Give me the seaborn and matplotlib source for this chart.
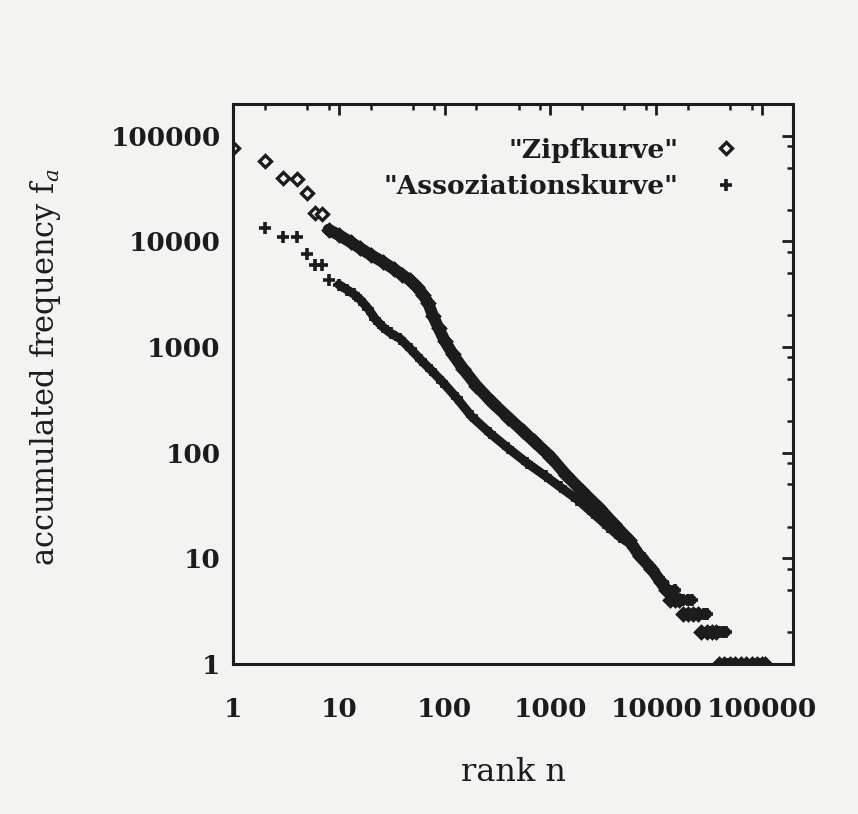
import numpy as np
import pandas as pd
import matplotlib
matplotlib.use("Agg")
import matplotlib.pyplot as plt
import seaborn as sns
from matplotlib.ticker import FixedLocator, FixedFormatter, NullFormatter

# ---------------- data ----------------
zipf_rank = [1, 2, 3, 4, 5, 6, 7, 8,
             10, 13, 16, 20, 26, 33, 40, 47, 55, 63, 70, 78, 88, 100,
             120, 150, 200, 280, 400, 550, 700, 1000, 1400, 2000,
             2900, 4000, 5500, 7000, 9000, 11000, 12500,
             13500, 15000, 16500,
             18000, 20000, 22500, 25000,
             26500, 30000, 33500, 37000,
             39000, 44000, 50000, 56000, 63000, 71000, 80000, 90000, 100000, 107000]
zipf_freq = [77000, 57000, 40000, 38500, 29000, 18700, 18300, 12900,
             11500, 9800, 8600, 7450, 6400, 5500, 4800, 4300, 3700, 3100, 2600, 1950, 1500, 1150,
             850, 620, 430, 300, 215, 160, 128, 92, 62, 43,
             30, 21, 15, 10.5, 8, 6, 5,
             4, 4, 4,
             3, 3, 3, 3,
             2, 2, 2, 2,
             1, 1, 1, 1, 1, 1, 1, 1, 1, 1]

assoc_rank = [2, 3, 4, 5, 6, 7, 8,
              10, 12, 14, 16, 19, 22, 26, 31, 38,
              48, 60, 75, 95, 130, 180, 270, 400, 600, 900,
              1250, 1800, 2500, 3500, 4500, 5500, 7000, 9000, 11500, 13000,
              15000, 16000, 18000, 20000, 22000,
              23000, 25500, 28000, 30000,
              31500, 35000, 39000, 43000, 46000,
              48000, 55000, 63000, 72000, 82000, 93000]
assoc_freq = [13400, 11000, 11000, 7600, 6000, 6000, 4300,
              3900, 3480, 3150, 2800, 2300, 1850, 1550, 1350, 1200,
              950, 750, 600, 470, 330, 220, 152, 110, 80, 60,
              47, 36, 27, 20, 16, 14, 11, 8, 6, 5,
              5, 4, 4, 4, 4,
              3, 3, 3, 3,
              2, 2, 2, 2, 2,
              1, 1, 1, 1, 1, 1]

series_names = ['"Zipfkurve"', '"Assoziationskurve"']
tick_values = [1, 10, 100, 1000, 10000, 100000]
tick_labels = ["1", "10", "100", "1000", "10000", "100000"]
x_label = "rank n"
y_label = "accumulated frequency f$_{a}$"

# ---------------- style ----------------
sns.set_theme(style="white")
plt.rcParams["font.family"] = ["DejaVu Serif"]
plt.rcParams["mathtext.fontset"] = "dejavuserif"

INK = "#1c1c1c"
BG = "#f3f3f1"

fig = plt.figure(figsize=(8.58, 8.14), dpi=100, facecolor=BG)
ax = fig.add_axes([233 / 858, 1 - 664 / 814, 560 / 858, 560 / 814])
ax.set_facecolor(BG)
ax.set_xscale("log")
ax.set_yscale("log")

df_z = pd.DataFrame({"rank": zipf_rank, "freq": zipf_freq})
df_a = pd.DataFrame({"rank": assoc_rank, "freq": assoc_freq})

# individual markers
sns.lineplot(data=df_z, x="rank", y="freq", ax=ax, estimator=None, sort=False,
             linestyle="", marker="D", markersize=6.5, markerfacecolor=BG,
             markeredgecolor=INK, markeredgewidth=2.4, color=INK,
             label=series_names[0], legend=False, zorder=2)
sns.lineplot(data=df_a, x="rank", y="freq", ax=ax, estimator=None, sort=False,
             linestyle="", marker="+", markersize=9, markeredgecolor=INK,
             markeredgewidth=2.6, color=INK, label=series_names[1], legend=False,
             zorder=2)

# dense bands (many overlapping markers in the original)
band_z = df_z[(df_z["rank"] >= 8) & (df_z["freq"] >= 5)]
band_a = df_a[(df_a["rank"] >= 10) & (df_a["freq"] >= 5)]
sns.lineplot(data=band_z, x="rank", y="freq", ax=ax, color=INK, linewidth=8.5,
             estimator=None, sort=False, legend=False, solid_capstyle="round",
             solid_joinstyle="round", zorder=3)
sns.lineplot(data=band_a, x="rank", y="freq", ax=ax, color=INK, linewidth=6.5,
             estimator=None, sort=False, legend=False, solid_capstyle="round",
             solid_joinstyle="round", zorder=3)

# plateaus of the integer tail (one bar per frequency value)
tail_z = df_z[df_z["freq"] <= 5]
tail_a = df_a[df_a["freq"] <= 5]
for tail in (tail_z, tail_a):
    sns.lineplot(data=tail, x="rank", y="freq", units="freq", ax=ax, color=INK,
                 linewidth=7, estimator=None, sort=False, legend=False,
                 solid_capstyle="round", zorder=3)

# ---------------- axes ----------------
ax.set_xlim(1, 10 ** 5.293)
ax.set_ylim(1, 10 ** 5.30)

for axis in (ax.xaxis, ax.yaxis):
    axis.set_major_locator(FixedLocator(tick_values))
    axis.set_major_formatter(FixedFormatter(tick_labels))
    axis.set_minor_locator(matplotlib.ticker.LogLocator(base=10, subs=(2.0, 5.0, 8.0), numticks=20))
    axis.set_minor_formatter(NullFormatter())

ax.tick_params(which="major", direction="in", length=8, width=2, color=INK,
               top=True, right=True, labelsize=19, labelcolor=INK)
ax.tick_params(which="minor", direction="in", length=4, width=1.8, color=INK,
               top=True, right=True)
ax.tick_params(axis="x", which="major", pad=24)
ax.tick_params(axis="y", which="major", pad=9)
for lab in ax.get_xticklabels() + ax.get_yticklabels():
    lab.set_fontweight("bold")

for sp in ax.spines.values():
    sp.set_visible(True)
    sp.set_color(INK)
    sp.set_linewidth(2.2)

ax.set_xlabel(x_label, fontsize=23, color=INK, labelpad=25)
ax.set_ylabel(y_label, fontsize=22, color=INK, labelpad=34)
ax.yaxis.label.set_y(0.53)

leg = ax.legend(loc="upper right", bbox_to_anchor=(0.927, 0.94), frameon=False,
                markerfirst=False, handletextpad=0.8,
                handlelength=2.0, labelspacing=0.45, borderaxespad=0, borderpad=0,
                numpoints=1, prop={"weight": "bold", "size": 19})
for t in leg.get_texts():
    t.set_color(INK)

fig.savefig("out.png", dpi=100, facecolor=BG)
